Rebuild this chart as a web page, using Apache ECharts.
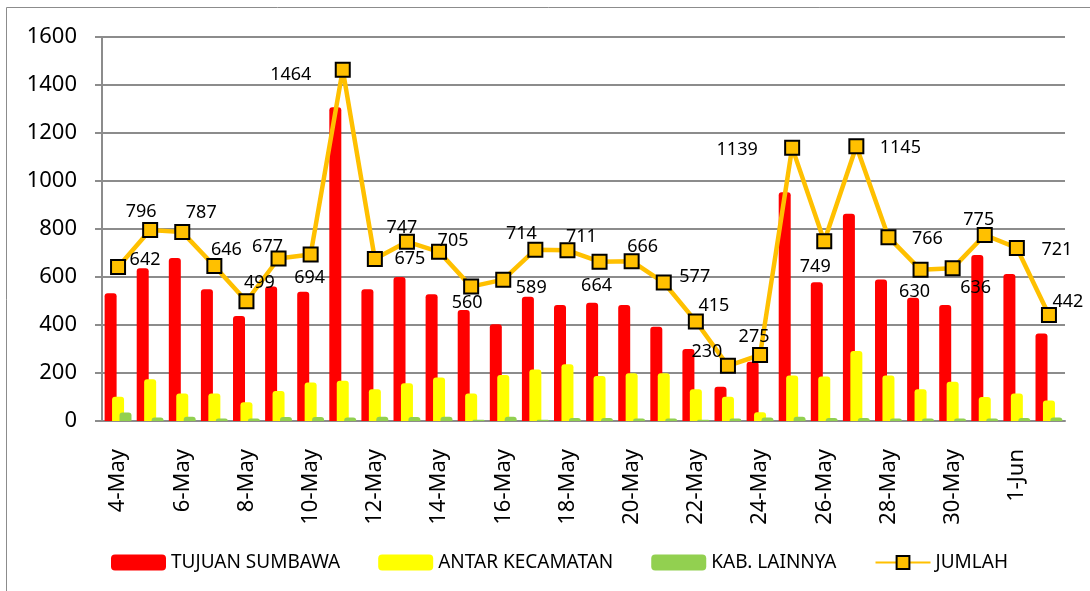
<!DOCTYPE html>
<html>
<head>
<meta charset="utf-8">
<script src="https://cdn.jsdelivr.net/npm/echarts@6/dist/echarts.min.js"></script>
<style>
  html, body { margin: 0; padding: 0; background: #fff; }
  #chart { width: 1090px; height: 591px; }
</style>
</head>
<body>
<div id="chart"></div>
<script>
var categories = ['4-May', '5-May', '6-May', '7-May', '8-May', '9-May', '10-May', '11-May', '12-May', '13-May',
    '14-May', '15-May', '16-May', '17-May', '18-May', '19-May', '20-May', '21-May', '22-May', '23-May',
    '24-May', '25-May', '26-May', '27-May', '28-May', '29-May', '30-May', '31-May', '1-Jun', '2-Jun'];

var tujuanSumbawa = [532, 636, 679, 549, 437, 560, 539, 1307, 549, 600, 528, 462, 403, 518, 483,
    493, 483, 393, 300, 143, 247, 953, 578, 864, 590, 514, 483, 692, 612, 365];
var antarKecamatan = [101, 174, 115, 115, 78, 125, 160, 168, 132, 157, 181, 115, 192, 215, 236,
    188, 199, 199, 132, 101, 36, 190, 185, 292, 190, 132, 164, 100, 115, 85];
var kabLainnya = [35, 15, 18, 10, 10, 17, 17, 15, 18, 17, 18, 5, 18, 5, 13,
    13, 10, 10, 5, 10, 15, 18, 13, 13, 10, 10, 10, 10, 13, 15];
var jumlah = [642, 796, 787, 646, 499, 677, 694, 1464, 675, 747, 705, 560, 589, 714, 711,
    664, 666, 577, 415, 230, 275, 1139, 749, 1145, 766, 630, 636, 775, 721, 442];

// where each JUMLAH label sits, relative to its marker (px)
var labelOffsets = [[27, -7], [-9, -18], [19, -19], [12, -16], [13, -18], [-11, -12], [-1, 23], [-52, 5],
    [35, 0], [-5, -14], [14, -11], [-4, 16], [28, 8], [-14, -16], [14, -13], [-3, 24], [11, -14],
    [31, -6], [18, -16], [-21, -14], [-6, -18], [-55, 2], [-9, 26], [44, 2], [39, 2], [-6, 22],
    [23, 20], [-6, -15], [40, 2], [19, -13]];

var FONT = 'Noto Sans';
var barRadius = [3, 3, 0, 0];

var chart = echarts.init(document.getElementById('chart'));

var option = {
    backgroundColor: '#ffffff',
    animation: false,
    textStyle: { fontFamily: FONT, color: '#000' },
    graphic: [{
        type: 'rect',
        shape: { x: 6.5, y: 7.5, width: 1100, height: 600 },
        style: { fill: 'none', stroke: '#8c8c8c', lineWidth: 1 },
        silent: true
    }],
    grid: {
        left: 102,
        right: 25,
        top: 37,
        bottom: 170
    },
    legend: {
        left: 106,
        top: 548,
        itemWidth: 55,
        itemHeight: 16,
        itemGap: 38,
        textStyle: { fontFamily: FONT, fontSize: 19, color: '#000' },
        data: [
            { name: 'TUJUAN SUMBAWA', icon: 'roundRect' },
            { name: 'ANTAR KECAMATAN', icon: 'roundRect' },
            { name: 'KAB. LAINNYA', icon: 'roundRect' },
            { name: 'JUMLAH' }
        ]
    },
    xAxis: {
        type: 'category',
        data: categories,
        boundaryGap: true,
        axisLine: { lineStyle: { color: '#8c8c8c', width: 2 } },
        axisTick: { interval: 1, length: 6, lineStyle: { color: '#8c8c8c', width: 2 } },
        axisLabel: {
            interval: 1,
            rotate: 90,
            margin: 28,
            fontSize: 22,
            fontFamily: FONT,
            color: '#000'
        }
    },
    yAxis: {
        type: 'value',
        min: 0,
        max: 1600,
        interval: 200,
        axisLine: { show: true, lineStyle: { color: '#8c8c8c', width: 2 } },
        axisTick: { show: true, length: 7, lineStyle: { color: '#8c8c8c', width: 2 } },
        splitLine: { lineStyle: { color: '#8c8c8c', width: 2 } },
        axisLabel: {
            margin: 25,
            fontSize: 22,
            fontFamily: FONT,
            color: '#000',
            formatter: function (v) { return String(v); }
        }
    },
    series: [
        {
            name: 'TUJUAN SUMBAWA',
            type: 'bar',
            data: tujuanSumbawa,
            barWidth: 12,
            barGap: '-38%',
            itemStyle: { color: '#ff0000', borderRadius: barRadius }
        },
        {
            name: 'ANTAR KECAMATAN',
            type: 'bar',
            data: antarKecamatan,
            barWidth: 12,
            barGap: '-38%',
            itemStyle: { color: '#ffff00', borderRadius: barRadius }
        },
        {
            name: 'KAB. LAINNYA',
            type: 'bar',
            data: kabLainnya,
            barWidth: 12,
            barGap: '-38%',
            itemStyle: { color: '#92d050', borderRadius: barRadius }
        },
        {
            name: 'JUMLAH',
            type: 'line',
            z: 5,
            symbol: 'rect',
            symbolSize: 14,
            lineStyle: { color: '#ffc000', width: 4.5 },
            itemStyle: { color: '#ffc000', borderColor: '#000', borderWidth: 2 },
            data: jumlah.map(function (v, i) {
                return {
                    value: v,
                    label: {
                        show: true,
                        position: 'inside',
                        offset: labelOffsets[i],
                        fontSize: 18,
                        fontFamily: FONT,
                        color: '#000'
                    }
                };
            })
        }
    ]
};

chart.setOption(option);
</script>
</body>
</html>
